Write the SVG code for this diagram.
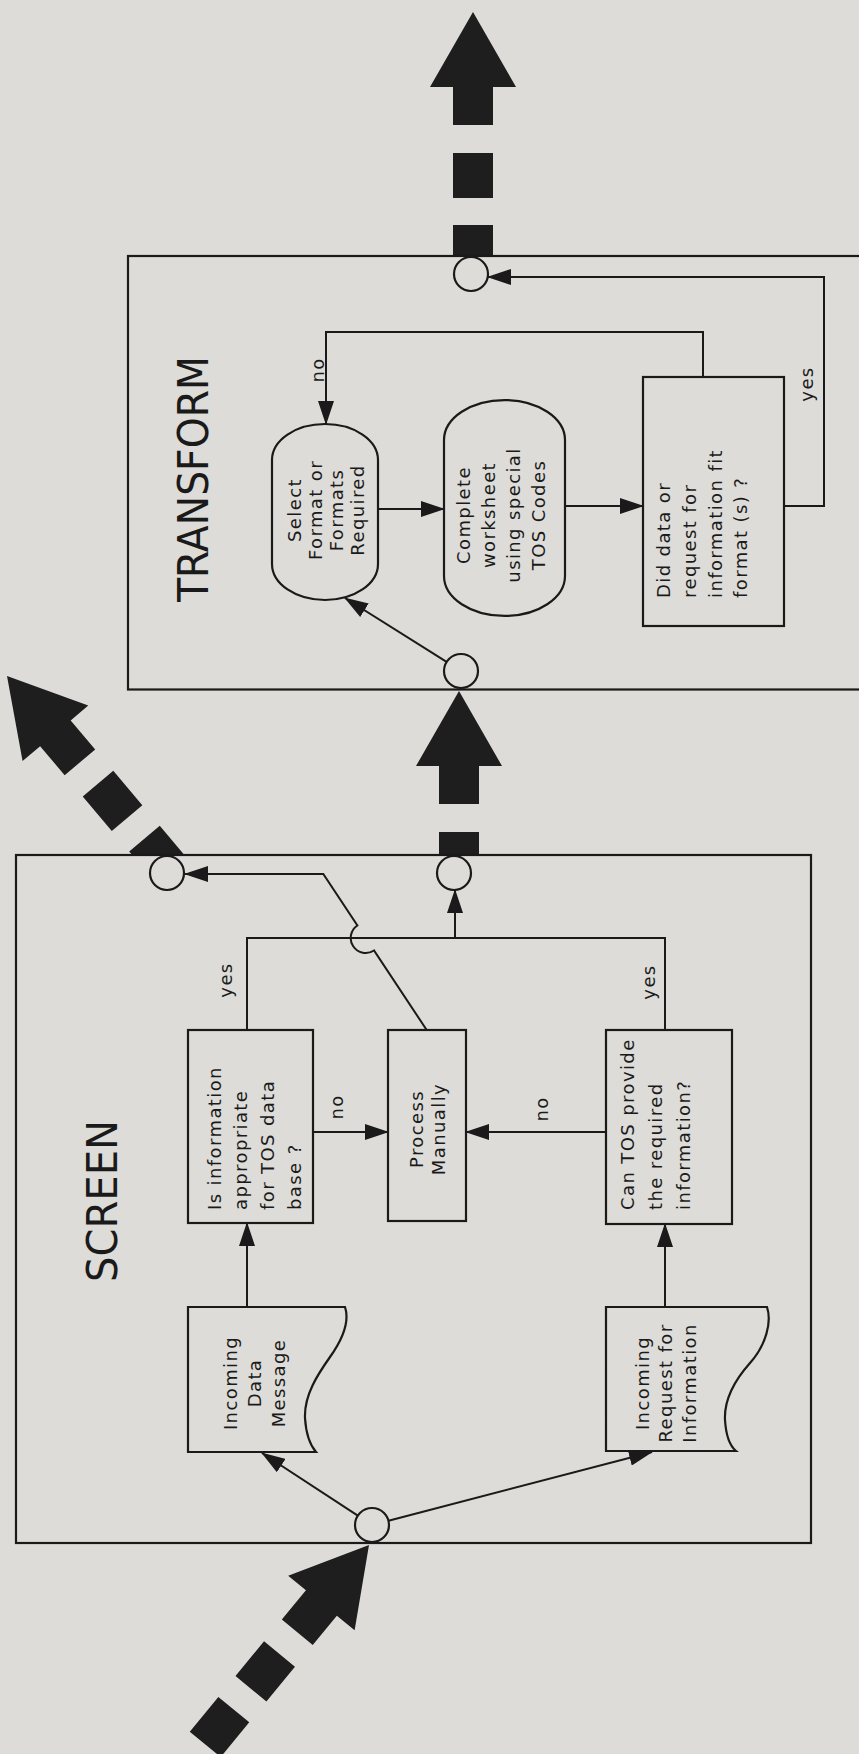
<svg xmlns="http://www.w3.org/2000/svg" width="859" height="1754" viewBox="0 0 859 1754">
<defs>
<style>
.bg{fill:#dddcd8}
.box{fill:#dddcd8;stroke:#1a1a1a;stroke-width:2.2}
.ln{fill:none;stroke:#1a1a1a;stroke-width:2}
.arr{marker-end:url(#ah)}
.big{fill:#1e1e1e}
.t{font-family:"DejaVu Sans",sans-serif;font-size:18px;letter-spacing:1.4px;fill:#1a1a1a}
.c{text-anchor:middle}
.title{font-family:"DejaVu Sans",sans-serif;font-size:43px;fill:#1a1a1a;text-anchor:middle}
</style>
<marker id="ah" viewBox="0 0 24 16" refX="23" refY="8" markerWidth="24" markerHeight="16" markerUnits="userSpaceOnUse" orient="auto">
<path d="M0,0 L24,8 L0,16 Z" fill="#1a1a1a"/>
</marker>
<path id="bigarrow" d="M0,0 L43,75 L20,75 L20,113 L-20,113 L-20,75 L-43,75 Z M-20,141 H20 V186 H-20 Z M-20,213 H20 V258 H-20 Z"/>
</defs>
<rect class="bg" x="0" y="0" width="859" height="1754"/>

<g id="flow-arrows" class="big">
<use href="#bigarrow" transform="translate(473,12)"/>
<use href="#bigarrow" transform="translate(459,691)"/>
<use href="#bigarrow" transform="translate(7,676) rotate(-40.2)"/>
<use href="#bigarrow" transform="translate(369,1545) rotate(39.4)"/>
</g>

<g id="transform">
<rect class="box" x="128" y="256" width="760" height="433.5"/>
<text class="title" transform="translate(208,479) rotate(-90)" textLength="246" lengthAdjust="spacingAndGlyphs">TRANSFORM</text>
</g>
<g id="screen">
<rect class="box" x="16" y="855" width="795" height="688"/>
<text class="title" transform="translate(117,1201) rotate(-90)" textLength="162" lengthAdjust="spacingAndGlyphs">SCREEN</text>
</g>

<g id="circle-transform-top"><circle class="box" cx="471" cy="274" r="17"/></g>
<g id="circle-transform-bottom"><circle class="box" cx="461" cy="671" r="17"/></g>
<g id="circle-screen-out-left"><circle class="box" cx="167" cy="873" r="17"/></g>
<g id="circle-screen-out"><circle class="box" cx="454" cy="873" r="17"/></g>
<g id="circle-screen-in"><circle class="box" cx="372" cy="1525" r="17"/></g>

<g id="select-format">
<path class="box" d="M272,460 A53,36 0 0 1 378,460 V564 A53,36 0 0 1 272,564 Z"/>
<g class="t c">
<text transform="translate(301,510) rotate(-90)">Select</text>
<text transform="translate(322,510) rotate(-90)">Format  or</text>
<text transform="translate(343,510) rotate(-90)">Formats</text>
<text transform="translate(364,510) rotate(-90)">Required</text>
</g>
</g>

<g id="complete-worksheet">
<path class="box" d="M444,440 A60.5,40 0 0 1 565,440 V576 A60.5,40 0 0 1 444,576 Z"/>
<g class="t c">
<text transform="translate(470,515) rotate(-90)">Complete</text>
<text transform="translate(495,515) rotate(-90)">worksheet</text>
<text transform="translate(520,515) rotate(-90)">using special</text>
<text transform="translate(545,515) rotate(-90)">TOS Codes</text>
</g>
</g>

<g id="did-data-fit">
<rect class="box" x="643" y="377" width="141" height="249"/>
<g class="t">
<text transform="translate(670,598) rotate(-90)">Did data or</text>
<text transform="translate(696,598) rotate(-90)">request for</text>
<text transform="translate(722,598) rotate(-90)">information fit</text>
<text transform="translate(747,598) rotate(-90)">format (s) ?</text>
</g>
</g>

<g id="is-info-appropriate">
<rect class="box" x="188" y="1030" width="125" height="193"/>
<g class="t">
<text transform="translate(221,1210) rotate(-90)">Is information</text>
<text transform="translate(247,1210) rotate(-90)">appropriate</text>
<text transform="translate(274,1210) rotate(-90)">for TOS data</text>
<text transform="translate(301,1210) rotate(-90)">base ?</text>
</g>
</g>

<g id="process-manually">
<rect class="box" x="388" y="1030" width="78" height="191"/>
<g class="t c">
<text transform="translate(423,1129) rotate(-90)">Process</text>
<text transform="translate(445,1129) rotate(-90)">Manually</text>
</g>
</g>

<g id="can-tos-provide">
<rect class="box" x="606" y="1030" width="126" height="194"/>
<g class="t">
<text transform="translate(634,1210) rotate(-90)">Can TOS provide</text>
<text transform="translate(662,1210) rotate(-90)">the required</text>
<text transform="translate(690,1210) rotate(-90)">information?</text>
</g>
</g>

<g id="incoming-data-message">
<path class="box" d="M188,1307 H345 C350,1322 342,1340 330,1357 C318,1374 304,1395 305,1418 C306,1434 310,1445 316,1452 H188 Z"/>
<g class="t c">
<text transform="translate(237,1383) rotate(-90)">Incoming</text>
<text transform="translate(261,1383) rotate(-90)">Data</text>
<text transform="translate(285,1383) rotate(-90)">Message</text>
</g>
</g>

<g id="incoming-request">
<path class="box" d="M606,1307 H767 C772,1322 766,1345 750,1363 C734,1381 724,1400 725,1420 C726,1436 730,1446 736,1451 H606 Z"/>
<g class="t c">
<text transform="translate(649,1383) rotate(-90)">Incoming</text>
<text transform="translate(672,1383) rotate(-90)">Request for</text>
<text transform="translate(696,1383) rotate(-90)">Information</text>
</g>
</g>

<g id="connectors">
<path class="ln arr" d="M357.8,1515.7 L262,1453"/>
<path class="ln arr" d="M388.5,1520.7 L652,1452"/>
<path class="ln arr" d="M247,1307 V1223"/>
<path class="ln arr" d="M665,1307 V1224"/>
<path class="ln arr" d="M313,1132 H388"/>
<path class="ln arr" d="M606,1132 H466"/>
<path class="ln" d="M247,1030 V938 H665 V1030"/>
<path class="ln arr" d="M455,938 V890"/>
<path class="ln arr" d="M426.7,1030 L374,950.5 A15,15 0 0 1 357.4,925.5 L323.3,874 L185,874"/>
<path class="ln arr" d="M446.6,661.9 L345,598"/>
<path class="ln arr" d="M703,377 V332 H326 V424"/>
<path class="ln arr" d="M378,509 H444"/>
<path class="ln arr" d="M565,506 H643"/>
<path class="ln arr" d="M784,506 H824 V277 H488"/>
<g class="t c">
<text transform="translate(232,980) rotate(-90)">yes</text>
<text transform="translate(655,982) rotate(-90)">yes</text>
<text transform="translate(343,1107) rotate(-90)">no</text>
<text transform="translate(548,1109) rotate(-90)">no</text>
<text transform="translate(813,384) rotate(-90)">yes</text>
<text transform="translate(324,370) rotate(-90)">no</text>
</g>
</g>
</svg>
